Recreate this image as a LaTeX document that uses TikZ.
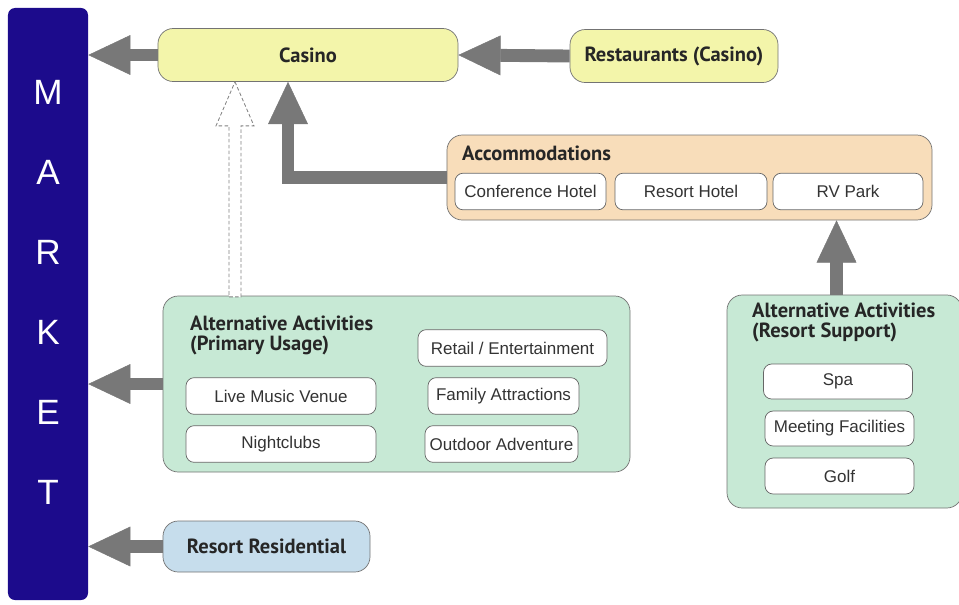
\documentclass[tikz,border=0pt]{standalone}
\usepackage{fontspec}
\setmainfont{Liberation Sans}
\newfontfamily\headfont{PT Sans}
\usetikzlibrary{arrows.meta,calc}

\definecolor{marketblue}{HTML}{1C0B8C}
\definecolor{casinoyellow}{HTML}{F3F5AA}
\definecolor{accpeach}{HTML}{F8DDBA}
\definecolor{altgreen}{HTML}{C7E9D5}
\definecolor{resblue}{HTML}{C6DDEC}
\definecolor{arrowgray}{HTML}{787878}

\begin{document}
\begin{tikzpicture}[x=0.03cm,y=-0.03cm,
	head/.style={font=\headfont\bfseries\fontsize{17.5}{17}\selectfont, text=black!85},
	pill/.style={draw=black!55, line width=0.6pt, rounded corners=13pt, minimum height=1.59cm, head},
	group/.style={draw=black!55, line width=0.6pt, rounded corners=13pt},
	box/.style={draw=black!60, line width=0.6pt, rounded corners=7pt, fill=white, minimum height=1.1cm, inner sep=0pt, text=black!80, font=\fontsize{14.5}{16}\selectfont},
	letter/.style={text=white, font=\fontsize{30}{34}\selectfont},
	fatarrow/.style={draw=arrowgray, line width=11pt, -{Triangle[length=36pt,width=34pt,line width=0.4pt]}},
	ghostarrow/.style={draw=black!50, line width=0.7pt, dash pattern=on 3pt off 2pt, fill=white}]
	\useasboundingbox (0,0) rectangle (959,604);
	%\draw[help lines] (0,0) grid[step=1cm] (959,604);

	% market bar
	\node[fill=marketblue, rounded corners=6pt, minimum width=2.4cm, minimum height=17.76cm] (market) at (48,304) {};
	\foreach \l [count=\i] in {M,A,R,K,E,T}
		\node[letter] (mk\i) at (48,12+80*\i) {\l};

	% top row
	\node[pill, fill=casinoyellow, minimum width=9cm] (casino) at (308,55) {Casino};
	\node[pill, fill=casinoyellow, minimum width=6.24cm] (restaurants) at (674,56) {Restaurants (Casino)};

	% accommodations
	\node[group, fill=accpeach, minimum width=14.55cm, minimum height=2.55cm] (accomm) at (689.5,177.5) {};
	\node[head, anchor=west, inner sep=0pt] (acctitle) at (462,153) {Accommodations};
	\node[box, minimum width=4.53cm] (conference) at (530.5,191.5) {Conference Hotel};
	\node[box, minimum width=4.56cm] (resorthotel) at (691,191.5) {Resort Hotel};
	\node[box, minimum width=4.5cm] (rvpark) at (848,191.5) {RV Park};

	% alternative activities, primary usage
	\node[group, fill=altgreen, minimum width=14.01cm, minimum height=5.28cm] (primary) at (396.5,384) {};
	\node[head, anchor=west, align=left, inner sep=0pt] (primtitle) at (190,335) {Alternative Activities\\(Primary Usage)};
	\node[box, minimum width=5.67cm] (retail) at (512.5,348) {Retail / Entertainment};
	\node[box, minimum width=5.7cm] (livemusic) at (281,396) {Live Music Venue};
	\node[box, minimum width=4.53cm] (family) at (503.5,396) {Family Attractions};
	\node[box, minimum width=5.7cm] (nightclubs) at (281,444) {Nightclubs};
	\node[box, minimum width=4.59cm] (outdoor) at (501.5,444) {Outdoor Adventure};

	% alternative activities, resort support
	\node[group, fill=altgreen, minimum width=7.05cm, minimum height=6.39cm] (support) at (844.5,401.5) {};
	\node[head, anchor=west, align=left, inner sep=0pt] (suptitle) at (752,322) {Alternative Activities\\(Resort Support)};
	\node[box, minimum width=4.47cm, minimum height=1.05cm] (spa) at (838,381.5) {Spa};
	\node[box, minimum width=4.47cm, minimum height=1.05cm] (meeting) at (839.5,428.5) {Meeting Facilities};
	\node[box, minimum width=4.47cm, minimum height=1.08cm] (golf) at (839.5,476) {Golf};

	% residential
	\node[pill, fill=resblue, minimum width=6.21cm, minimum height=1.53cm] (residential) at (266.5,546.5) {Resort Residential};

	% arrows
	\draw[fatarrow] (restaurants.west) -- (casino.east);
	\draw[fatarrow] (casino.west) -- (casino.west -| market.east);
	\draw[fatarrow] (primary.west) -- (primary.west -| market.east);
	\draw[fatarrow] (residential.west) -- (residential.west -| market.east);
	\coordinate (acctip) at ($(casino.south)+(-20,0)$);
	\draw[fatarrow] (accomm.west) -| (acctip);
	\coordinate (suptop) at ($(support.north)+(-8,0)$);
	\draw[fatarrow] (suptop) -- (suptop |- accomm.south);

	% dashed hollow arrow
	\coordinate (dashtip) at ($(casino.south)+(-73,0)$);
	\draw[ghostarrow] (dashtip) -- ++(19,44) -- ++(-13,0) -- ++(0,171) -- ++(-12,0) -- ++(0,-171) -- ++(-13,0) -- cycle;
\end{tikzpicture}
\end{document}
